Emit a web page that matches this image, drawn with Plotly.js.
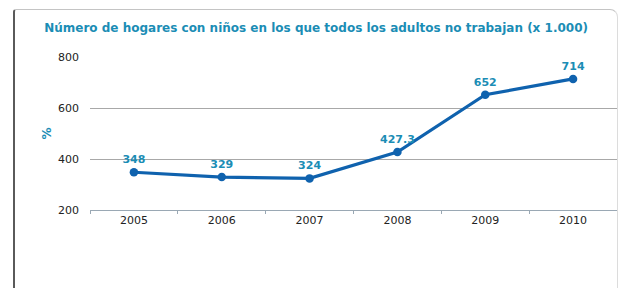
<!DOCTYPE html>
<html>
<head>
<meta charset="utf-8">
<script src="https://cdn.plot.ly/plotly-3.0.1.min.js"></script>
<style>
html,body{margin:0;padding:0;background:#fff;}
#wrap{position:relative;width:621px;height:288px;overflow:hidden;}
#frame{position:absolute;left:13px;top:9px;width:602px;height:300px;border-left:2px solid #5a5a5a;border-top:1px solid #c4c4c4;border-right:1px solid #dcdcdc;border-top-right-radius:8px;border-top-left-radius:3px;pointer-events:none;}
#chart{position:absolute;left:0;top:0;width:621px;height:288px;}
</style>
</head>
<body>
<div id="wrap">
<div id="chart"></div>
<div id="frame"></div>
</div>
<script>
const years = ['2005','2006','2007','2008','2009','2010'];
const values = [348, 329, 324, 427.3, 652, 714];
const labels = ['348','329','324','427.3','652','714'];
const yTicks = [200, 400, 600, 800];

const trace = {
  type: 'scatter',
  mode: 'lines+markers+text',
  x: years,
  y: values,
  text: labels,
  textposition: 'top center',
  textfont: {family: 'DejaVu Sans', size: 11, color: '#1b8db5', weight: 'bold'},
  line: {color: '#0f62ae', width: 3.2},
  marker: {color: '#0f62ae', size: 8.5},
  cliponaxis: false,
  hoverinfo: 'none'
};

const layout = {
  width: 621, height: 288,
  margin: {l: 90, r: 4, t: 57, b: 78},
  paper_bgcolor: 'rgba(0,0,0,0)',
  plot_bgcolor: 'rgba(0,0,0,0)',
  showlegend: false,
  title: {
    text: 'Número de hogares con niños en los que todos los adultos no trabajan (x 1.000)',
    font: {family: 'DejaVu Sans', size: 12, color: '#1b8db5', weight: 'bold'},
    x: 0.509, xanchor: 'center', xref: 'container',
    y: 0.905, yanchor: 'middle', yref: 'container'
  },
  xaxis: {
    type: 'category',
    tickson: 'boundaries',
    ticks: 'outside', ticklen: 3, tickcolor: '#9aa8b4',
    showline: true, linecolor: '#9aa8b4', linewidth: 1,
    showgrid: false,
    tickfont: {family: 'DejaVu Sans', size: 11, color: '#222'},
    range: [-0.5, 5.5],
    fixedrange: true
  },
  yaxis: {
    range: [200, 800],
    tickvals: yTicks,
    ticktext: yTicks.map(String),
    showgrid: true, gridcolor: '#a8a8a8', gridwidth: 1,
    zeroline: false, showline: false,
    ticks: '', ticklen: 0,
    tickfont: {family: 'DejaVu Sans', size: 11, color: '#222'},
    ticklabelstandoff: 10,
    title: {text: '%', font: {family: 'DejaVu Sans', size: 12, color: '#1b8db5', weight: 'bold'}, standoff: 3},
    fixedrange: true
  }
};

Plotly.newPlot('chart', [trace], layout, {displayModeBar: false, staticPlot: true});
</script>
</body>
</html>
